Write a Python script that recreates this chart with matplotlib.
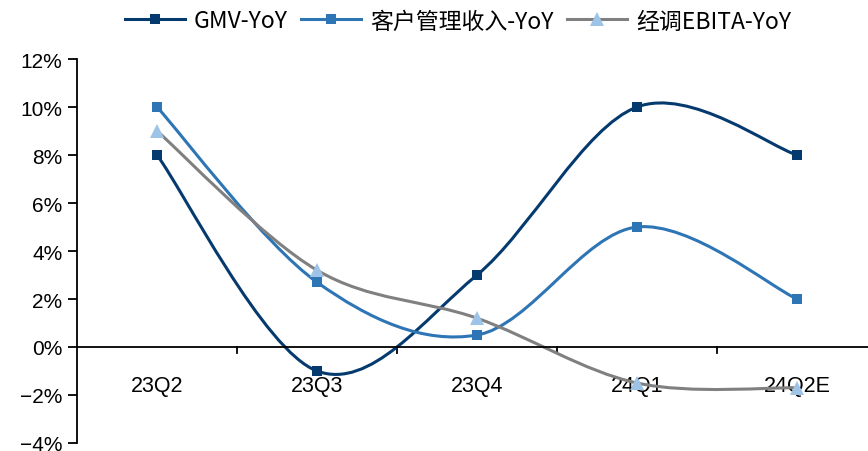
import numpy as np
import matplotlib.pyplot as plt
from matplotlib.path import Path
from matplotlib.patches import PathPatch
from matplotlib.lines import Line2D

# 数据
quarters = ['23Q2', '23Q3', '23Q4', '24Q1', '24Q2E']
gmv_yoy = [8.0, -1.0, 3.0, 10.0, 8.0]
kehu_yoy = [10.0, 2.7, 0.5, 5.0, 2.0]
ebita_yoy = [9.0, 3.2, 1.2, -1.5, -1.7]

c_gmv = '#053A6E'
c_kehu = '#2E75B6'
c_ebita = '#808080'
c_tri = '#9DC3E6'

plt.rcParams['font.family'] = ['Liberation Sans', 'DejaVu Sans']


def smooth_path(x, y):
    # 平滑曲线 (类似Excel的平滑线)
    n = len(x)
    verts = [(x[0], y[0])]
    codes = [Path.MOVETO]
    for i in range(n - 1):
        x0, y0 = (x[i - 1], y[i - 1]) if i > 0 else (x[i], y[i])
        x3, y3 = (x[i + 2], y[i + 2]) if i + 2 < n else (x[i + 1], y[i + 1])
        c1 = (x[i] + (x[i + 1] - x0) / 6, y[i] + (y[i + 1] - y0) / 6)
        c2 = (x[i + 1] - (x3 - x[i]) / 6, y[i + 1] - (y3 - y[i]) / 6)
        verts += [c1, c2, (x[i + 1], y[i + 1])]
        codes += [Path.CURVE4] * 3
    return Path(verts, codes)


fig = plt.figure(figsize=(8.68, 4.52), dpi=100)
ax = fig.add_axes([77 / 868, 8 / 452, 800 / 868, 384 / 452])

xs = np.arange(len(quarters))
series = [
    (gmv_yoy, c_gmv, 's', c_gmv, 6.5, 'GMV-YoY'),
    (kehu_yoy, c_kehu, 's', c_kehu, 6.5, '客户管理收入-YoY'),
    (ebita_yoy, c_ebita, '^', c_tri, 10, '经调EBITA-YoY'),
]
handles = []
for vals, col, mk, mcol, ms, lab in series:
    p = PathPatch(smooth_path(xs, vals), facecolor='none', edgecolor=col,
                  lw=2.2, zorder=2)
    ax.add_patch(p)
    ax.plot(xs, vals, linestyle='none', marker=mk, color=mcol, ms=ms,
            markeredgewidth=0, zorder=3)
    handles.append(Line2D([], [], color=col, lw=2.2, marker=mk, ms=ms,
                          markerfacecolor=mcol, markeredgewidth=0))

ax.set_xlim(-0.5, len(quarters) - 0.5)
ax.set_ylim(-4, 12)
ax.set_yticks(np.arange(-4, 13, 2))
ax.set_yticklabels([f'{v}%'.replace('-', '−') for v in range(-4, 13, 2)])

for s in ['top', 'right']:
    ax.spines[s].set_visible(False)
ax.spines['bottom'].set_position(('data', 0))
ax.spines['left'].set_linewidth(1.3)
ax.spines['bottom'].set_linewidth(1.3)

ax.set_xticks(np.arange(0.5, len(quarters) - 0.5, 1))
ax.set_xticklabels([])
ax.set_xticks(xs, minor=True)
ax.set_xticklabels(quarters, minor=True)
ax.tick_params(axis='x', which='major', direction='in', length=0)
ax.tick_params(axis='x', which='minor', length=0, pad=20, labelsize=15.5)
ax.tick_params(axis='y', direction='out', length=6.5, width=1.3, pad=4, labelsize=15)
# 分类之间的刻度 (向下)
for xt in np.arange(0.5, len(quarters) - 0.5, 1):
    ax.plot([xt, xt], [0, -0.25], color='black', lw=1.3, clip_on=False, zorder=1)

fig.legend(handles, [s[5] for s in series], loc='center',
           bbox_to_anchor=(458 / 868, 1 - 22 / 452), ncol=3, frameon=False,
           prop={'family': ['Noto Sans CJK SC', 'DejaVu Sans'], 'size': 16.5},
           handlelength=2.6, columnspacing=0.6, handletextpad=0.4,
           borderpad=0.1)

fig.savefig('out.png', dpi=100)
